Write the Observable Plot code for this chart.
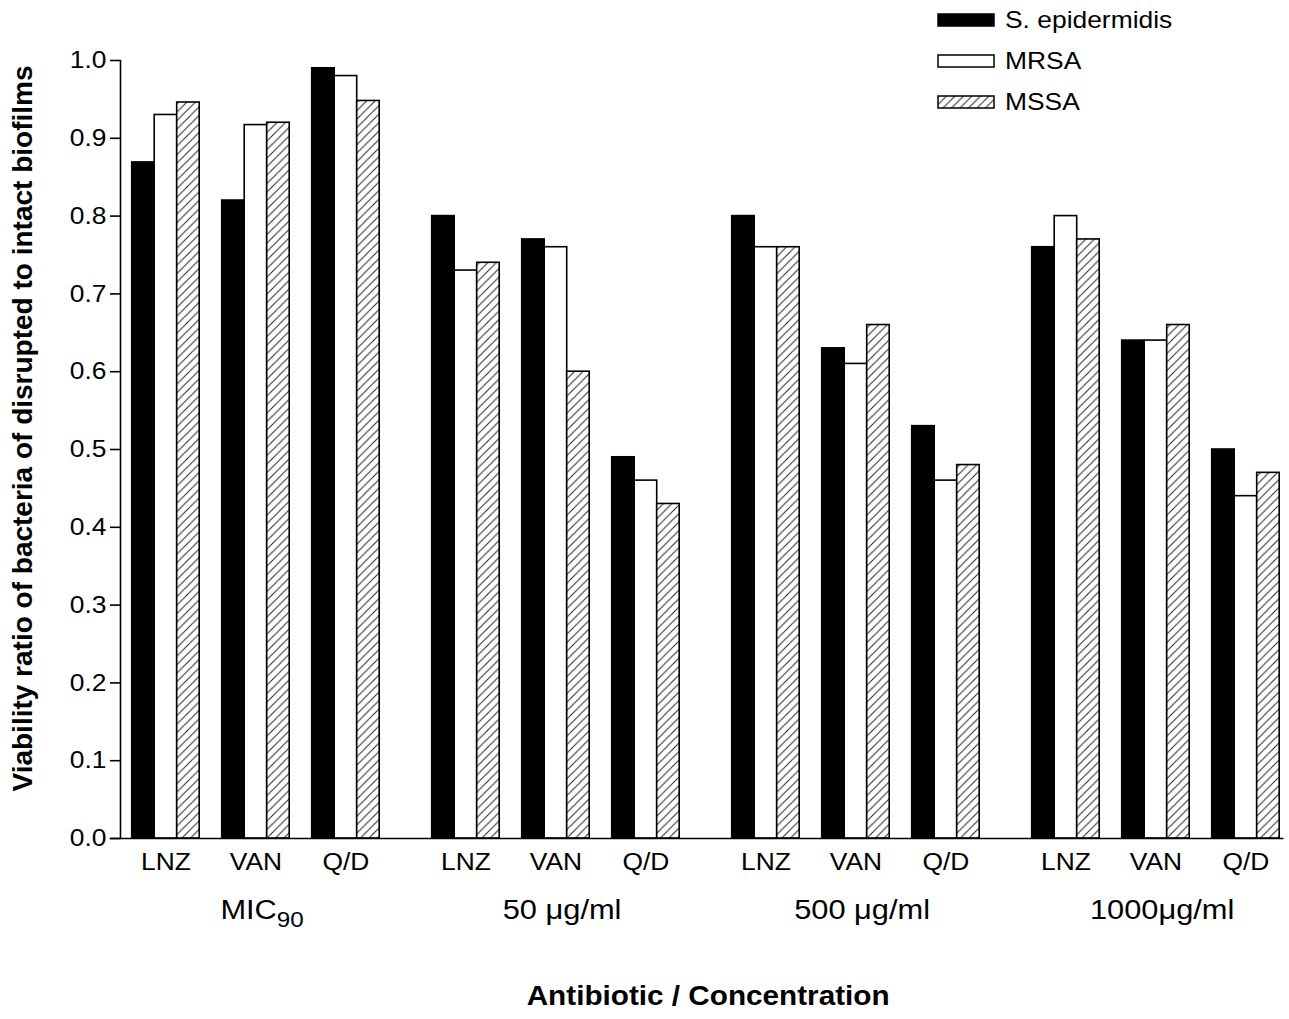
<!DOCTYPE html>
<html>
<head>
<meta charset="utf-8">
<script src="https://cdn.jsdelivr.net/npm/d3@7"></script>
<script src="https://cdn.jsdelivr.net/npm/@observablehq/plot@0.6"></script>
<style>
  html, body { margin: 0; padding: 0; background: #fff; }
  #wrap { position: relative; width: 1289px; height: 1019px; font-family: "Liberation Sans", Arial, sans-serif; }
  #legend { position: absolute; left: 937px; top: -1px; }
  .lrow { display: flex; align-items: center; height: 41px; font-size: 24px; color: #000; }
  .lrow svg { margin-right: 10px; display: block; }
  .lrow span { display: inline-block; transform: scaleX(1.1); transform-origin: left center; }
</style>
</head>
<body>
<div id="wrap">
  <div id="chart"></div>
  <div id="legend"></div>
</div>
<script>
// ---- data ----
const groups = ["MIC90", "50 μg/ml", "500 μg/ml", "1000μg/ml"];
const antibiotics = ["LNZ", "VAN", "Q/D"];
const series = ["S. epidermidis", "MRSA", "MSSA"];
// values ordered: group-major, antibiotic-minor (MIC90 LNZ, MIC90 VAN, MIC90 Q/D, 50 LNZ, ...)
const sEpidermidis = [0.869, 0.820, 0.990, 0.80, 0.77, 0.49, 0.80, 0.63, 0.53, 0.76, 0.64, 0.50];
const mrsa         = [0.930, 0.917, 0.980, 0.73, 0.76, 0.46, 0.76, 0.61, 0.46, 0.80, 0.64, 0.44];
const mssa         = [0.946, 0.920, 0.948, 0.74, 0.60, 0.43, 0.76, 0.66, 0.48, 0.77, 0.66, 0.47];
const yTicks = [0.0, 0.1, 0.2, 0.3, 0.4, 0.5, 0.6, 0.7, 0.8, 0.9, 1.0];
const yTitle = "Viability ratio of bacteria of disrupted to intact biofilms";
const xTitle = "Antibiotic / Concentration";
const seriesFills = ["#000", "#fff", "url(#hatch)"];

// ---- table ----
const values = [sEpidermidis, mrsa, mssa];
const slots = antibiotics.flatMap((a, i) => [
  ...series.map(s => a + "|" + s),
  ...(i < antibiotics.length - 1 ? ["gap" + i] : [])
]);
const rows = [];
groups.forEach((g, gi) => antibiotics.forEach((a, ai) => series.forEach((s, si) => {
  rows.push({group: g, antibiotic: a, series: s, slot: a + "|" + s, value: values[si][gi * antibiotics.length + ai]});
})));
const abLabels = groups.flatMap(g => antibiotics.map(a => ({group: g, antibiotic: a, slot: a + "|" + series[1]})));

const plot = Plot.plot({
  width: 1289,
  height: 1019,
  marginLeft: 120,
  marginRight: 9.8,
  marginTop: 60,
  marginBottom: 181,
  style: {fontFamily: "'Liberation Sans', Arial, sans-serif", fontSize: "24px", background: "#fff", color: "#000"},
  fx: {domain: groups, paddingInner: 0.136, paddingOuter: 0, round: false, axis: null, label: null},
  x: {domain: slots, paddingInner: 0, paddingOuter: 0.26, align: 1, round: false, axis: null},
  y: {domain: [0, 1], label: null},
  color: {domain: series, range: seriesFills},
  marks: [
    Plot.barY(rows, {fx: "group", x: "slot", y: "value", fill: "series", stroke: "#000", strokeWidth: 1.6}),
    Plot.axisY({ticks: yTicks, tickFormat: d3.format(".1f"), tickSize: 10, tickPadding: 4, strokeWidth: 1.6, label: null}),
    Plot.frame({facet: "super", anchor: "bottom", insetLeft: -10, insetRight: -3, strokeWidth: 1.6}),
    Plot.frame({facet: "super", anchor: "left", strokeWidth: 1.6}),
    Plot.text(abLabels, {fx: "group", x: "slot", text: "antibiotic", frameAnchor: "bottom", lineAnchor: "top", dy: 14, fontSize: 24}),
    Plot.text(groups, {fx: d => d, text: d => d, frameAnchor: "bottom", lineAnchor: "top", dy: 61, dx: 12, fontSize: 28}),
    Plot.text([{g: groups[0], t: yTitle}], {fx: "g", text: "t", frameAnchor: "left", textAnchor: "middle", rotate: -90, dx: -97, dy: -21, fontSize: 28, fontWeight: "bold"}),
    Plot.text([xTitle], {facet: "super", text: d => d, frameAnchor: "bottom", lineAnchor: "top", dy: 147, dx: 8, fontSize: 27, fontWeight: "bold"})
  ]
});

const svg = plot.tagName.toLowerCase() === "svg" ? plot : plot.querySelector("svg");
const ns = "http://www.w3.org/2000/svg";
function makeHatch(id) {
  const defs = document.createElementNS(ns, "defs");
  defs.innerHTML = `<pattern id="${id}" patternUnits="userSpaceOnUse" width="8.5" height="8.5">
    <rect width="8.5" height="8.5" fill="#fff"></rect>
    <path d="M0,8.5 L8.5,0 M-2,2 L2,-2 M6.5,10.5 L10.5,6.5" stroke="#222" stroke-width="1"></path>
  </pattern>`;
  return defs;
}
svg.prepend(makeHatch("hatch"));
document.getElementById("chart").appendChild(plot);

// subscript for MIC90
svg.querySelectorAll("text").forEach(t => {
  if (t.textContent === "MIC90") {
    t.textContent = "MIC";
    const sub = document.createElementNS(ns, "tspan");
    sub.setAttribute("font-size", "22");
    sub.setAttribute("dy", "8");
    sub.textContent = "90";
    t.appendChild(sub);
  }
});

// slightly wider lettering, as in the reference (horizontal text only)
const stretch = 1.1;
svg.querySelectorAll("text").forEach(t => {
  const old = t.getAttribute("transform") || "";
  if (old.includes("rotate")) return;
  const b = t.getBBox();
  const anchor = getComputedStyle(t).textAnchor;
  const ax = anchor === "end" ? b.x + b.width : anchor === "middle" ? b.x + b.width / 2 : b.x;
  t.setAttribute("transform", `${old} translate(${ax},0) scale(${stretch},1) translate(${-ax},0)`.trim());
});

// legend
const legend = document.getElementById("legend");
series.forEach((s, i) => {
  const row = document.createElement("div");
  row.className = "lrow";
  const fill = i === 2 ? "url(#hatch-legend)" : seriesFills[i];
  row.innerHTML = `<svg width="58" height="14" viewBox="-1 -1 58 14">${i === 2 ? makeHatch("hatch-legend").outerHTML : ""}<rect x="0" y="0" width="56" height="12" fill="${fill}" stroke="#000" stroke-width="1.5"></rect></svg><span>${s}</span>`;
  legend.appendChild(row);
});
</script>
</body>
</html>
